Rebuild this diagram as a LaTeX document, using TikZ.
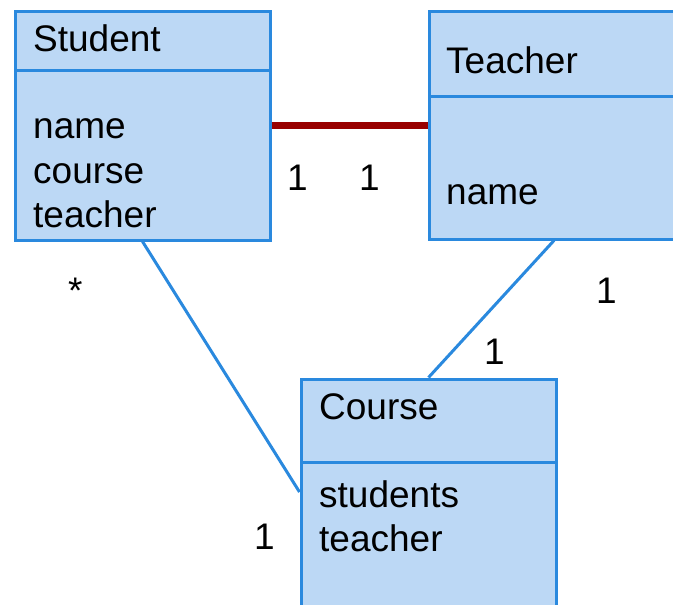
\documentclass[tikz,border=0pt]{standalone}
\usepackage{fontspec}
\setmainfont{Liberation Sans}
\usepackage{tikz}

\definecolor{boxfill}{RGB}{188,216,245}
\definecolor{boxline}{RGB}{42,137,222}
\definecolor{linkred}{RGB}{153,0,0}

\tikzset{
  classbox/.style={rectangle,draw=boxline,fill=boxfill,line width=3pt,inner sep=0pt,minimum width=255pt},
  txt/.style={anchor=base west,inner sep=0pt,font=\fontsize{37}{44}\selectfont},
  bluelink/.style={draw=boxline,line width=3pt},
  redlink/.style={draw=linkred,line width=7pt}
}

\begin{document}
\begin{tikzpicture}[x=1pt,y=-1pt]
    \useasboundingbox (0,0) rectangle (673,605);
    \clip (0,0) rectangle (673,605);
    \fill[white] (0,0) rectangle (673,605);
      % class boxes
      \node[classbox,minimum height=59pt] (studenthead) at (142.5,40.5) {};
      \node[classbox,minimum height=170pt] (studentbody) at (142.5,155) {};
      \node[classbox,minimum width=300pt,minimum height=85pt] (teacherhead) at (579,53.5) {};
      \node[classbox,minimum width=300pt,minimum height=143pt] (teacherbody) at (579,167.5) {};
      \node[classbox,minimum height=83pt] (coursehead) at (428.5,420.5) {};
      \node[classbox,minimum height=168pt] (coursebody) at (428.5,546) {};
    \draw[redlink] (studentbody.east |- 0,125) -- (teacherbody.west |- 0,125);
   \draw[bluelink] (studentbody.south) -- (coursebody.west |- 0,492);
    \draw[bluelink] ([xshift=126.5pt]teacherbody.south west) -- (coursehead.north);
      % texts
      \node[txt] (studentname) at (33,51) {Student};
      \node[txt] (studentattr1) at (33,138) {name};
      \node[txt] (studentattr2) at (33,183) {course};
      \node[txt] (studentattr3) at (33,227) {teacher};
      \node[txt] (teachername) at (446,73) {Teacher};
      \node[txt] (teacherattr1) at (446,204) {name};
      \node[txt] (coursename) at (319,419) {Course};
      \node[txt] (courseattr1) at (319,507) {students};
      \node[txt] (courseattr2) at (319,551) {teacher};
      % multiplicities
      \node[txt] (mstar) at (68,303) {*};
      \node[txt] (m1) at (287,190) {1};
      \node[txt] (m2) at (359,190) {1};
      \node[txt] (m3) at (596,303) {1};
      \node[txt] (m4) at (484,364) {1};
      \node[txt] (m5) at (254,549) {1};
    \end{tikzpicture}
\end{document}
